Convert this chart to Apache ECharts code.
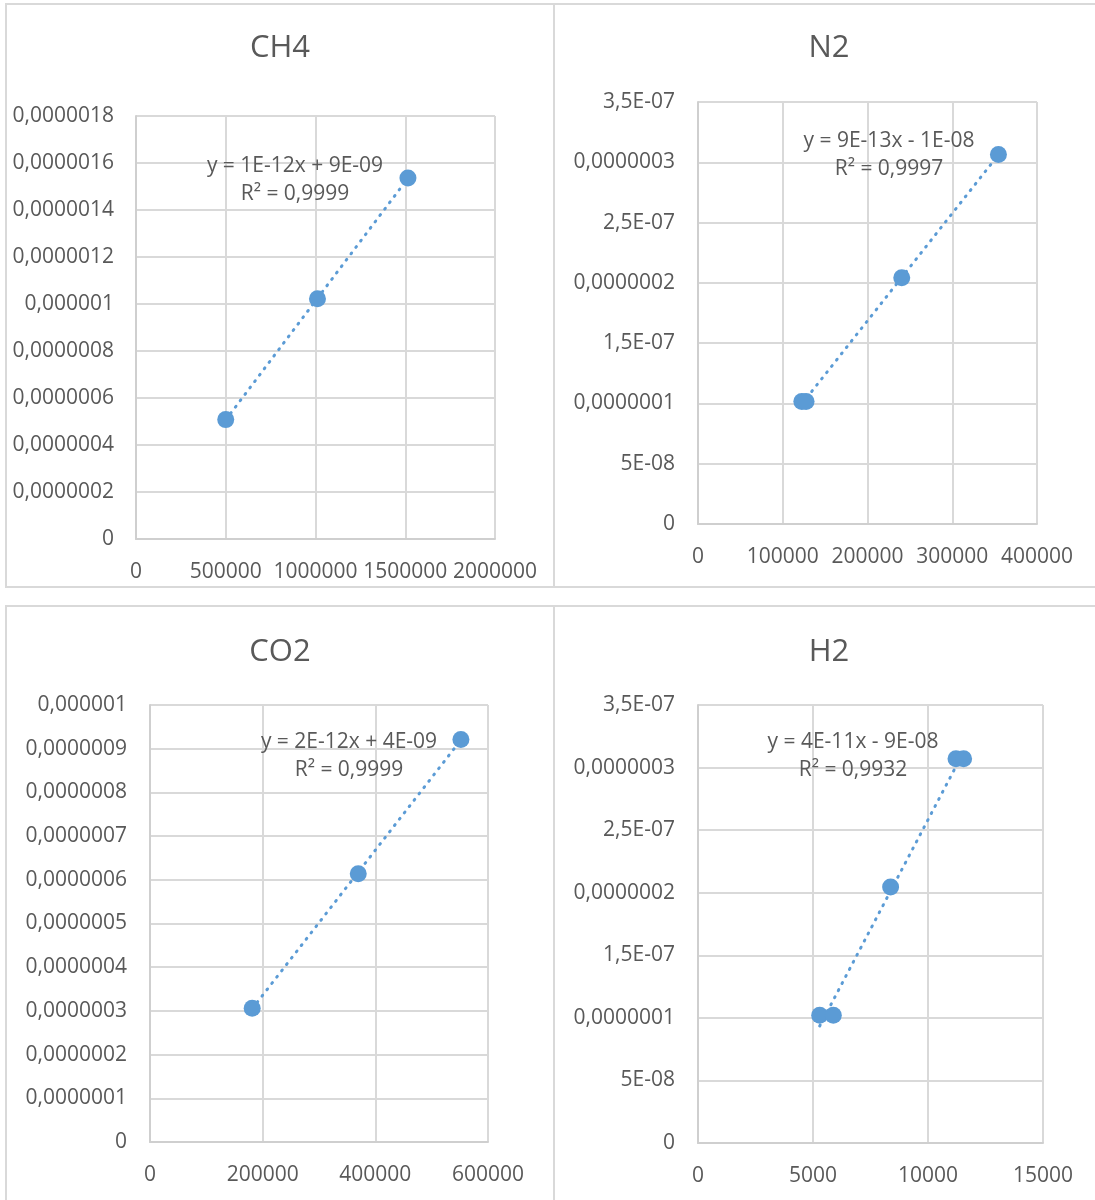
<!DOCTYPE html>
<html>
<head>
<meta charset="utf-8">
<script src="https://cdn.jsdelivr.net/npm/echarts@6/dist/echarts.min.js"></script>
<style>
html,body{margin:0;padding:0;background:#fff;}
#chart{width:1095px;height:1200px;}
</style>
</head>
<body>
<div id="chart"></div>
<script>
// ---- CH4 ----
var ch4X = [500000, 1011000, 1515000];
var ch4Y = [5.08e-7, 1.022e-6, 1.536e-6];
var ch4TrendX = [500000, 1515000];
var ch4TrendY = [5.07e-7, 1.535e-6];
var ch4XTicks = ['0', '500000', '1000000', '1500000', '2000000'];
var ch4YTicks = ['0', '0,0000002', '0,0000004', '0,0000006', '0,0000008', '0,000001', '0,0000012', '0,0000014', '0,0000016', '0,0000018'];
var ch4Eq = ['y = 1E-12x + 9E-09', 'R² = 0,9999'];

// ---- N2 ----
var n2X = [122500, 127500, 240400, 354500];
var n2Y = [1.016e-7, 1.016e-7, 2.042e-7, 3.064e-7];
var n2TrendX = [122500, 354500];
var n2TrendY = [0.995e-7, 3.062e-7];
var n2XTicks = ['0', '100000', '200000', '300000', '400000'];
var n2YTicks = ['0', '5E-08', '0,0000001', '1,5E-07', '0,0000002', '2,5E-07', '0,0000003', '3,5E-07'];
var n2Eq = ['y = 9E-13x - 1E-08', 'R² = 0,9997'];

// ---- CO2 ----
var co2X = [181400, 369700, 551900];
var co2Y = [3.06e-7, 6.14e-7, 9.21e-7];
var co2TrendX = [181400, 551900];
var co2TrendY = [3.05e-7, 9.2e-7];
var co2XTicks = ['0', '200000', '400000', '600000'];
var co2YTicks = ['0', '0,0000001', '0,0000002', '0,0000003', '0,0000004', '0,0000005', '0,0000006', '0,0000007', '0,0000008', '0,0000009', '0,000001'];
var co2Eq = ['y = 2E-12x + 4E-09', 'R² = 0,9999'];

// ---- H2 ----
var h2X = [5291, 5883, 8374, 11217, 11548];
var h2Y = [1.021e-7, 1.021e-7, 2.046e-7, 3.07e-7, 3.07e-7];
var h2TrendX = [5291, 11548];
var h2TrendY = [0.935e-7, 3.125e-7];
var h2XTicks = ['0', '5000', '10000', '15000'];
var h2YTicks = ['0', '5E-08', '0,0000001', '1,5E-07', '0,0000002', '2,5E-07', '0,0000003', '3,5E-07'];
var h2Eq = ['y = 4E-11x - 9E-08', 'R² = 0,9932'];

var titles = ['CH4', 'N2', 'CO2', 'H2'];

var FONT = '"Open Sans", "Liberation Sans", sans-serif';
var TXT = '#595959';
var BLUE = '#5B9BD5';
var GRIDC = '#d9d9d9';

var panels = [
  {x: ch4X, y: ch4Y, tx: ch4TrendX, ty: ch4TrendY, xt: ch4XTicks, yt: ch4YTicks, eq: ch4Eq,
   xmax: 2000000, xint: 500000, ymax: 1.8e-6, yint: 2e-7,
   grid: {left: 136, top: 116, width: 359, height: 423}, yMargin: 22, xMargin: 23,
   title: [280, 48], eqPos: [295, 166]},
  {x: n2X, y: n2Y, tx: n2TrendX, ty: n2TrendY, xt: n2XTicks, yt: n2YTicks, eq: n2Eq,
   xmax: 400000, xint: 100000, ymax: 3.5e-7, yint: 5e-8,
   grid: {left: 698, top: 102, width: 339, height: 422}, yMargin: 23, xMargin: 23,
   title: [829, 48], eqPos: [889, 141]},
  {x: co2X, y: co2Y, tx: co2TrendX, ty: co2TrendY, xt: co2XTicks, yt: co2YTicks, eq: co2Eq,
   xmax: 600000, xint: 200000, ymax: 1e-6, yint: 1e-7,
   grid: {left: 150, top: 705, width: 338, height: 437}, yMargin: 23, xMargin: 23,
   title: [280, 652], eqPos: [349, 742]},
  {x: h2X, y: h2Y, tx: h2TrendX, ty: h2TrendY, xt: h2XTicks, yt: h2YTicks, eq: h2Eq,
   xmax: 15000, xint: 5000, ymax: 3.5e-7, yint: 5e-8,
   grid: {left: 698, top: 705, width: 345, height: 438}, yMargin: 23, xMargin: 23,
   title: [829, 652], eqPos: [853, 742]}
];

var grids = [], xAxes = [], yAxes = [], series = [], graphics = [];

// panel borders
graphics.push({type: 'rect', shape: {x: 6, y: 4, width: 548, height: 583}, style: {fill: 'none', stroke: GRIDC, lineWidth: 2}, z: 0});
graphics.push({type: 'rect', shape: {x: 554, y: 4, width: 560, height: 583}, style: {fill: 'none', stroke: GRIDC, lineWidth: 2}, z: 0});
graphics.push({type: 'rect', shape: {x: 6, y: 606, width: 548, height: 620}, style: {fill: 'none', stroke: GRIDC, lineWidth: 2}, z: 0});
graphics.push({type: 'rect', shape: {x: 554, y: 606, width: 560, height: 620}, style: {fill: 'none', stroke: GRIDC, lineWidth: 2}, z: 0});

panels.forEach(function (p, i) {
  grids.push(p.grid);
  (function (xt, yt) {
    xAxes.push({
      type: 'value', gridIndex: i, min: 0, max: p.xmax, interval: p.xint,
      axisLine: {show: true, lineStyle: {color: '#cfcfcf', width: 2}},
      axisTick: {show: false},
      splitLine: {show: true, lineStyle: {color: GRIDC, width: 2}},
      axisLabel: {color: TXT, fontSize: 21, fontFamily: FONT, margin: p.xMargin,
        formatter: function (v, idx) { return xt[idx]; }}
    });
    yAxes.push({
      type: 'value', gridIndex: i, min: 0, max: p.ymax, interval: p.yint,
      axisLine: {show: true, lineStyle: {color: '#cfcfcf', width: 2}},
      axisTick: {show: false},
      splitLine: {show: true, lineStyle: {color: GRIDC, width: 2}},
      axisLabel: {color: TXT, fontSize: 21, fontFamily: FONT, margin: p.yMargin,
        padding: [4, 0, 0, 0],
        formatter: function (v, idx) { return yt[idx]; }}
    });
  })(p.xt, p.yt);

  series.push({
    type: 'line', xAxisIndex: i, yAxisIndex: i,
    data: p.tx.map(function (xv, k) { return [xv, p.ty[k]]; }),
    showSymbol: false, symbol: 'none', silent: true, z: 2,
    lineStyle: {color: BLUE, width: 3, type: [1, 7], cap: 'round'}
  });
  series.push({
    type: 'scatter', xAxisIndex: i, yAxisIndex: i,
    data: p.x.map(function (xv, k) { return [xv, p.y[k]]; }),
    symbol: 'circle', symbolSize: 17, z: 3,
    itemStyle: {color: BLUE, opacity: 1}
  });

  graphics.push({type: 'text', x: p.title[0], y: p.title[1], z: 10,
    style: {text: titles[i], fill: TXT, font: '31px ' + FONT, align: 'center', verticalAlign: 'middle'}});
  graphics.push({type: 'text', x: p.eqPos[0], y: p.eqPos[1], z: 10,
    style: {text: p.eq[0], fill: TXT, font: '21px ' + FONT, align: 'center', verticalAlign: 'middle'}});
  graphics.push({type: 'text', x: p.eqPos[0], y: p.eqPos[1] + 28, z: 10,
    style: {text: p.eq[1], fill: TXT, font: '21px ' + FONT, align: 'center', verticalAlign: 'middle'}});
});

var chart = echarts.init(document.getElementById('chart'), null, {renderer: 'canvas'});
chart.setOption({
  animation: false,
  backgroundColor: '#ffffff',
  grid: grids,
  xAxis: xAxes,
  yAxis: yAxes,
  series: series,
  graphic: graphics
});
</script>
</body>
</html>
